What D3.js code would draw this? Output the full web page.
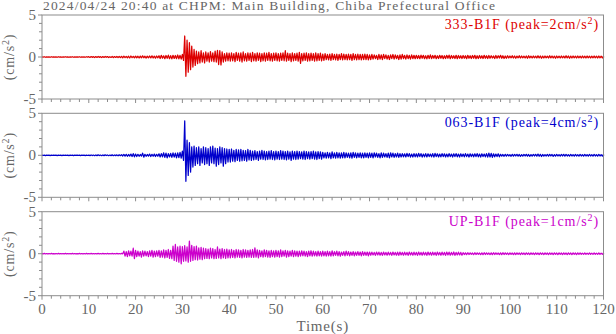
<!DOCTYPE html>
<html><head><meta charset="utf-8">
<script src="https://cdn.jsdelivr.net/npm/d3@7"></script>
<style>
body{margin:0;background:#fff;}
svg{display:block;font-family:"Liberation Serif","Times New Roman",serif;}
</style></head>
<body><svg id="c" width="616" height="334"></svg>
<script>
// ---- data (cm/s^2), envelope samples every 0.5 s from 0 to 120 s ----
const stations = ["333-B1F", "063-B1F", "UP-B1F"];
const peaks = [2, 4, 1];
const xTickValues = [0,10,20,30,40,50,60,70,80,90,100,110,120];
const yTickValues = [-5, 0, 5];
const stepSec = 0.5;

const redHi = [0.02,0.03,0.02,0.02,0.03,0.02,0.02,0.03,0.02,0.02,0.03,0.02,0.02,0.03,0.02,0.02,0.03,0.02,0.02,0.03,
0.04,0.05,0.04,0.05,0.06,0.04,0.05,0.06,0.05,0.04,0.06,0.05,0.07,0.06,
0.08,0.1,0.07,0.09,0.12,0.08,0.1,0.09,0.11,0.13,0.09,0.1,0.12,0.14,0.1,0.12,
0.15,0.2,0.14,0.18,0.22,0.16,0.2,0.18,0.24,0.2,
0.3,2.5,2.0,1.7,1.3,0.9,0.7,0.6,0.75,0.5,
0.6,0.5,0.65,0.5,0.7,0.8,0.75,0.6,0.4,0.5,
0.45,0.5,0.4,0.55,0.45,0.5,0.6,0.4,0.5,0.45,0.55,0.4,0.5,0.45,0.4,0.5,0.45,0.55,0.4,0.45,
0.5,0.4,0.45,0.5,0.75,0.45,0.4,0.5,0.4,0.45,0.55,0.4,0.45,0.5,0.4,0.45,0.4,0.5,0.4,0.45,
0.35,0.4,0.3,0.35,0.4,0.3,0.35,0.3,0.4,0.35,0.3,0.35,0.3,0.4,0.3,0.35,0.3,0.3,0.35,0.3,
0.25,0.3,0.25,0.2,0.3,0.25,0.3,0.25,0.2,0.25,0.3,0.25,0.2,0.25,0.3,0.2,0.25,0.2,0.25,0.2,
0.2,0.18,0.22,0.2,0.15,0.2,0.25,0.18,0.2,0.15,0.2,0.18,0.15,0.2,0.22,0.18,0.15,0.2,0.18,0.15,
0.18,0.15,0.2,0.15,0.18,0.2,0.15,0.18,0.15,0.2,0.15,0.18,0.15,0.12,0.18,0.15,0.2,0.15,0.12,0.15,
0.12,0.15,0.12,0.1,0.15,0.12,0.1,0.12,0.15,0.1,0.12,0.1,0.15,0.12,0.1,0.12,0.1,0.15,0.12,0.1,
0.12,0.1,0.12,0.1,0.15,0.12,0.1,0.12,0.1,0.12,0.1,0.12,0.1,0.12,0.1,0.1,0.12,0.1,0.12,0.1,0.1];
const redLo = [-0.02,-0.03,-0.02,-0.03,-0.02,-0.02,-0.03,-0.02,-0.03,-0.02,-0.02,-0.03,-0.02,-0.03,-0.02,-0.02,-0.03,-0.02,-0.03,-0.02,
-0.05,-0.04,-0.06,-0.05,-0.04,-0.06,-0.05,-0.04,-0.06,-0.05,-0.07,-0.05,-0.06,-0.07,
-0.09,-0.08,-0.1,-0.12,-0.08,-0.1,-0.09,-0.12,-0.1,-0.09,-0.13,-0.1,-0.11,-0.12,-0.14,-0.1,
-0.18,-0.14,-0.2,-0.16,-0.2,-0.22,-0.17,-0.2,-0.22,-0.25,
-0.4,-2.3,-1.8,-1.5,-1.2,-1.0,-0.8,-0.7,-0.6,-0.7,
-0.5,-0.6,-0.5,-0.55,-0.6,-0.9,-0.95,-0.6,-0.5,-0.45,
-0.5,-0.45,-0.55,-0.4,-0.5,-0.6,-0.45,-0.5,-0.4,-0.55,-0.45,-0.5,-0.4,-0.55,-0.45,-0.5,-0.4,-0.45,-0.5,-0.4,
-0.45,-0.5,-0.4,-0.45,-0.5,-0.4,-0.55,-0.45,-0.4,-0.5,-0.75,-0.45,-0.4,-0.5,-0.45,-0.4,-0.5,-0.45,-0.4,-0.45,
-0.4,-0.3,-0.35,-0.4,-0.3,-0.35,-0.4,-0.3,-0.35,-0.3,-0.35,-0.3,-0.4,-0.3,-0.35,-0.3,-0.35,-0.3,-0.3,-0.35,
-0.3,-0.25,-0.2,-0.3,-0.25,-0.3,-0.2,-0.25,-0.3,-0.2,-0.25,-0.2,-0.3,-0.25,-0.2,-0.25,-0.2,-0.25,-0.2,-0.2,
-0.18,-0.2,-0.15,-0.2,-0.22,-0.18,-0.2,-0.15,-0.2,-0.18,-0.15,-0.2,-0.18,-0.15,-0.2,-0.15,-0.18,-0.2,-0.15,-0.18,
-0.15,-0.2,-0.15,-0.18,-0.15,-0.2,-0.18,-0.15,-0.18,-0.15,-0.18,-0.15,-0.12,-0.18,-0.15,-0.12,-0.15,-0.18,-0.15,-0.12,
-0.1,-0.12,-0.15,-0.1,-0.12,-0.1,-0.12,-0.15,-0.1,-0.12,-0.1,-0.12,-0.1,-0.15,-0.12,-0.1,-0.12,-0.1,-0.12,-0.15,
-0.1,-0.12,-0.1,-0.12,-0.1,-0.15,-0.12,-0.1,-0.12,-0.1,-0.12,-0.1,-0.12,-0.1,-0.12,-0.1,-0.1,-0.12,-0.1,-0.12,-0.1];

const blueHi = [0.02,0.03,0.02,0.02,0.03,0.02,0.02,0.03,0.02,0.02,0.03,0.02,0.02,0.03,0.02,0.02,0.03,0.02,0.02,0.03,
0.03,0.04,0.03,0.04,0.05,0.03,0.04,0.05,0.04,0.03,0.05,0.04,0.05,0.06,
0.08,0.1,0.12,0.1,0.15,0.2,0.15,0.12,0.1,0.25,0.12,0.1,0.15,0.12,0.14,0.12,
0.18,0.2,0.3,0.25,0.2,0.22,0.28,0.25,0.3,0.35,
0.5,4.1,1.8,1.5,1.0,1.1,0.9,1.0,0.8,1.0,
0.9,0.8,1.0,1.1,0.85,0.8,1.0,0.9,0.8,0.75,
0.7,0.75,0.6,0.7,0.65,0.7,0.6,0.55,0.7,0.6,
0.5,0.55,0.45,0.5,0.6,0.5,0.45,0.5,0.55,0.45,0.5,0.45,0.55,0.5,0.45,0.5,0.4,0.5,0.45,0.5,
0.45,0.4,0.5,0.45,0.4,0.45,0.5,0.4,0.45,0.4,
0.35,0.3,0.35,0.3,0.4,0.3,0.35,0.3,0.3,0.35,0.3,0.25,0.3,0.35,0.3,0.25,0.3,0.25,0.3,0.25,
0.3,0.25,0.3,0.25,0.2,0.3,0.25,0.2,0.25,0.3,0.25,0.2,0.25,0.2,
0.2,0.18,0.22,0.2,0.15,0.2,0.18,0.22,0.2,0.15,0.2,0.18,0.15,0.2,0.22,0.18,0.15,0.2,0.18,0.15,
0.2,0.15,0.18,0.2,0.15,0.18,0.15,0.2,0.15,0.18,0.15,0.18,0.2,0.15,0.18,0.15,0.2,0.25,0.22,0.18,0.15,0.18,
0.12,0.1,0.12,0.1,0.08,0.12,0.1,0.12,0.1,0.08,0.1,0.12,0.1,0.08,0.1,0.12,0.15,0.12,0.1,0.08,
0.1,0.12,0.1,0.08,0.1,0.08,0.1,0.12,0.1,0.08,0.1,0.08,0.1,0.08,0.1,0.08,0.1,0.08,0.1,0.08,
0.1,0.08,0.1,0.08,0.1];
const blueLo = [-0.02,-0.03,-0.02,-0.03,-0.02,-0.02,-0.03,-0.02,-0.03,-0.02,-0.02,-0.03,-0.02,-0.03,-0.02,-0.02,-0.03,-0.02,-0.03,-0.02,
-0.04,-0.03,-0.05,-0.04,-0.03,-0.05,-0.04,-0.03,-0.05,-0.04,-0.05,-0.04,-0.06,-0.05,
-0.08,-0.1,-0.12,-0.1,-0.14,-0.18,-0.15,-0.12,-0.1,-0.22,-0.12,-0.1,-0.14,-0.12,-0.15,-0.12,
-0.2,-0.18,-0.25,-0.3,-0.2,-0.25,-0.22,-0.3,-0.28,-0.35,
-0.6,-3.1,-2.4,-2.0,-1.4,-1.2,-1.0,-1.2,-0.9,-1.1,
-1.0,-1.2,-0.9,-1.0,-1.3,-1.1,-0.9,-1.3,-1.0,-0.8,
-0.8,-0.7,-0.75,-0.6,-0.7,-0.65,-0.6,-0.7,-0.55,-0.6,
-0.55,-0.5,-0.6,-0.45,-0.5,-0.55,-0.5,-0.45,-0.5,-0.55,-0.45,-0.5,-0.45,-0.5,-0.55,-0.45,-0.6,-0.45,-0.5,-0.45,
-0.4,-0.45,-0.5,-0.4,-0.45,-0.4,-0.45,-0.5,-0.4,-0.45,
-0.3,-0.35,-0.3,-0.4,-0.3,-0.35,-0.3,-0.35,-0.3,-0.3,-0.25,-0.3,-0.35,-0.25,-0.3,-0.25,-0.3,-0.3,-0.25,-0.3,
-0.25,-0.3,-0.2,-0.25,-0.3,-0.25,-0.2,-0.25,-0.3,-0.2,-0.25,-0.2,-0.25,-0.2,
-0.18,-0.2,-0.15,-0.22,-0.2,-0.18,-0.2,-0.15,-0.22,-0.18,-0.2,-0.15,-0.18,-0.22,-0.15,-0.2,-0.18,-0.15,-0.2,-0.18,
-0.15,-0.2,-0.15,-0.18,-0.2,-0.15,-0.18,-0.15,-0.2,-0.15,-0.18,-0.15,-0.18,-0.2,-0.15,-0.18,-0.22,-0.2,-0.25,-0.18,-0.15,-0.18,
-0.1,-0.12,-0.1,-0.08,-0.12,-0.1,-0.08,-0.1,-0.12,-0.1,-0.08,-0.1,-0.12,-0.1,-0.08,-0.1,-0.12,-0.15,-0.1,-0.08,
-0.1,-0.08,-0.12,-0.1,-0.08,-0.1,-0.08,-0.1,-0.08,-0.1,-0.08,-0.1,-0.08,-0.1,-0.08,-0.1,-0.08,-0.1,-0.08,-0.1,
-0.08,-0.1,-0.08,-0.1,-0.08];

const magHi = [0.02,0.03,0.02,0.02,0.03,0.02,0.02,0.03,0.02,0.02,0.03,0.02,0.02,0.03,0.02,0.02,0.03,0.02,0.02,0.03,
0.02,0.03,0.02,0.02,0.03,0.02,0.03,0.02,0.03,0.02,0.03,0.02,0.03,0.02,0.03,
0.3,0.25,0.35,0.3,0.65,
0.4,0.3,0.25,0.35,0.3,0.25,0.35,0.4,0.3,0.35,
0.4,0.35,0.45,0.4,0.5,0.4,
0.9,1.1,0.8,0.9,0.85,0.95,0.8,1.5,1.0,0.85,0.9,0.7,0.75,0.65,
0.6,0.55,0.65,0.6,0.5,0.8,0.55,0.6,0.5,0.55,
0.45,0.5,0.4,0.5,0.45,0.4,0.5,0.45,0.4,0.45,
0.5,0.7,0.45,0.4,0.35,0.45,0.4,0.35,0.4,0.35,0.4,0.35,0.45,0.35,0.4,0.35,0.3,0.4,0.35,0.3,
0.3,0.35,0.3,0.25,0.3,0.35,0.3,0.25,0.3,0.25,0.3,0.25,0.3,0.25,0.35,0.25,0.3,0.25,0.2,0.25,
0.3,0.25,0.2,0.25,0.2,0.25,0.2,0.25,0.2,0.2,
0.2,0.18,0.15,0.2,0.18,0.15,0.2,0.15,0.18,0.15,0.2,0.15,0.18,0.2,0.15,0.18,0.15,0.2,0.15,0.18,
0.15,0.2,0.15,0.18,0.15,0.2,0.15,0.18,0.15,0.2,0.15,0.18,0.15,0.2,0.18,0.15,0.2,0.15,0.18,0.15,
0.12,0.1,0.12,0.1,0.08,0.12,0.1,0.08,0.1,0.12,0.1,0.08,0.1,0.12,0.1,0.08,0.1,0.12,0.1,0.08,
0.1,0.08,0.1,0.1,0.08,0.1,0.08,0.1,0.08,0.1,0.08,0.1,0.08,0.1,0.08,0.1,0.08,0.1,0.08,0.1,
0.08,0.1,0.08,0.1,0.08,0.1,0.08,0.1,0.08,0.1,0.08,0.07,0.08,0.07,0.08,0.07,0.08,0.07,0.08,0.07,0.08];
const magLo = [-0.02,-0.03,-0.02,-0.03,-0.02,-0.02,-0.03,-0.02,-0.03,-0.02,-0.02,-0.03,-0.02,-0.03,-0.02,-0.02,-0.03,-0.02,-0.03,-0.02,
-0.03,-0.02,-0.03,-0.02,-0.02,-0.03,-0.02,-0.03,-0.02,-0.03,-0.02,-0.03,-0.02,-0.03,-0.02,
-0.3,-0.35,-0.25,-0.3,-0.6,
-0.35,-0.3,-0.4,-0.3,-0.25,-0.35,-0.3,-0.4,-0.35,-0.3,
-0.45,-0.4,-0.5,-0.45,-0.55,-0.6,
-0.8,-0.9,-1.0,-1.2,-0.9,-0.85,-1.0,-0.9,-0.8,-0.7,-0.75,-0.65,-0.7,-0.6,
-0.55,-0.6,-0.5,-0.6,-0.55,-0.5,-0.6,-0.5,-0.55,-0.5,
-0.5,-0.45,-0.5,-0.4,-0.45,-0.5,-0.4,-0.45,-0.4,-0.45,
-0.45,-0.4,-0.5,-0.35,-0.4,-0.35,-0.4,-0.45,-0.35,-0.4,-0.35,-0.4,-0.35,-0.3,-0.4,-0.35,-0.3,-0.35,-0.3,-0.35,
-0.3,-0.25,-0.3,-0.35,-0.25,-0.3,-0.25,-0.3,-0.25,-0.3,-0.25,-0.3,-0.25,-0.3,-0.25,-0.2,-0.25,-0.3,-0.2,-0.25,
-0.2,-0.25,-0.2,-0.25,-0.2,-0.2,-0.25,-0.2,-0.2,-0.25,
-0.18,-0.15,-0.2,-0.15,-0.18,-0.2,-0.15,-0.18,-0.15,-0.2,-0.15,-0.18,-0.2,-0.15,-0.18,-0.15,-0.2,-0.15,-0.18,-0.15,
-0.2,-0.15,-0.18,-0.15,-0.2,-0.15,-0.18,-0.15,-0.2,-0.15,-0.18,-0.15,-0.2,-0.15,-0.18,-0.15,-0.2,-0.15,-0.15,-0.18,
-0.1,-0.12,-0.1,-0.08,-0.12,-0.1,-0.08,-0.1,-0.12,-0.1,-0.08,-0.1,-0.12,-0.1,-0.08,-0.1,-0.12,-0.1,-0.08,-0.1,
-0.08,-0.1,-0.1,-0.08,-0.1,-0.08,-0.1,-0.08,-0.1,-0.08,-0.1,-0.08,-0.1,-0.08,-0.1,-0.08,-0.1,-0.08,-0.1,-0.08,
-0.1,-0.08,-0.1,-0.08,-0.1,-0.08,-0.1,-0.08,-0.1,-0.08,-0.07,-0.08,-0.07,-0.08,-0.07,-0.08,-0.07,-0.08,-0.07,-0.08,-0.07];

const hiSeries = [redHi, blueHi, magHi];
const loSeries = [redLo, blueLo, magLo];
const title = "2024/04/24 20:40 at CHPM: Main Building, Chiba Prefectural Office";

// ---- layout ----
const colors = ["#dd0000", "#0000cc", "#cc00cc"];
const gray = "#8c8c8c", textGray = "#666";
const left = 42, right = 603.5, panelH = 84;
const tops = [15, 113.3, 211.7];

const svg = d3.select("#c");
const x = d3.scaleLinear().domain([0, 120]).range([left, right]);

svg.append("text").attr("x", 43).attr("y", 10)
  .attr("font-size", 13.5).attr("fill", textGray)
  .attr("textLength", 452).attr("lengthAdjust", "spacing")
  .text(title);

tops.forEach((top, p) => {
  const y = d3.scaleLinear().domain([-5, 5]).range([top + panelH, top]);
  const g = svg.append("g");

  // trace: zigzag between envelope samples
  const pts = [];
  const hi = hiSeries[p], lo = loSeries[p];
  for (let i = 0; i < hi.length; i++) {
    pts.push([i * stepSec, hi[i]]);
    if (i < lo.length) pts.push([i * stepSec + stepSec / 2, lo[i]]);
  }
  g.append("path")
    .attr("d", d3.line().x(d => x(Math.min(d[0], 120))).y(d => y(d[1]))(pts))
    .attr("fill", "none").attr("stroke", colors[p]).attr("stroke-width", 1.25)
    .attr("stroke-linejoin", "round");

  // frame
  g.append("rect").attr("x", left).attr("y", top).attr("width", right - left).attr("height", panelH)
    .attr("fill", "none").attr("stroke", gray).attr("stroke-width", 1);

  // x ticks (outward, bottom)
  const xMinor = d3.range(0, 121, 2);
  g.selectAll(".xt").data(xMinor).join("line")
    .attr("x1", d => x(d)).attr("x2", d => x(d))
    .attr("y1", top + panelH).attr("y2", d => top + panelH + (d % 10 === 0 ? 4 : 3))
    .attr("stroke", gray).attr("stroke-width", 1);

  // y ticks (outward, left)
  const yMinor = d3.range(-5, 6, 1);
  g.selectAll(".yt").data(yMinor).join("line")
    .attr("x1", left).attr("x2", d => left - (d % 5 === 0 ? 4 : 3))
    .attr("y1", d => y(d)).attr("y2", d => y(d))
    .attr("stroke", gray).attr("stroke-width", 1);

  g.selectAll(".yl").data(yTickValues).join("text")
    .attr("x", left - 6).attr("y", d => y(d) + 5)
    .attr("text-anchor", "end").attr("font-size", 15).attr("fill", textGray)
    .text(d => d);

  // y axis title
  const yl = g.append("text").attr("transform", `translate(14,${top + panelH / 2}) rotate(-90)`)
    .attr("text-anchor", "middle").attr("font-size", 14).attr("fill", textGray)
    .attr("letter-spacing", 0.8);
  yl.append("tspan").text("(cm/s");
  yl.append("tspan").attr("dy", -5).attr("font-size", 10).text("2");
  yl.append("tspan").attr("dy", 5).text(")");

  // station label
  const lb = g.append("text").attr("x", 599).attr("y", top + 14)
    .attr("text-anchor", "end").attr("font-size", 14).attr("fill", colors[p])
    .attr("letter-spacing", 0.9);
  lb.append("tspan").text(`${stations[p]} (peak=${peaks[p]}cm/s`);
  lb.append("tspan").attr("dy", -5).attr("font-size", 10).text("2");
  lb.append("tspan").attr("dy", 5).text(")");

  if (p === 2) {
    g.selectAll(".xl").data(xTickValues).join("text")
      .attr("x", d => x(d)).attr("y", top + panelH + 18)
      .attr("text-anchor", "middle").attr("font-size", 15).attr("fill", textGray)
      .text(d => d);
    g.append("text").attr("x", (left + right) / 2).attr("y", 331)
      .attr("text-anchor", "middle").attr("font-size", 15).attr("fill", textGray)
      .attr("letter-spacing", 0.8).text("Time(s)");
  }
});
</script></body></html>
